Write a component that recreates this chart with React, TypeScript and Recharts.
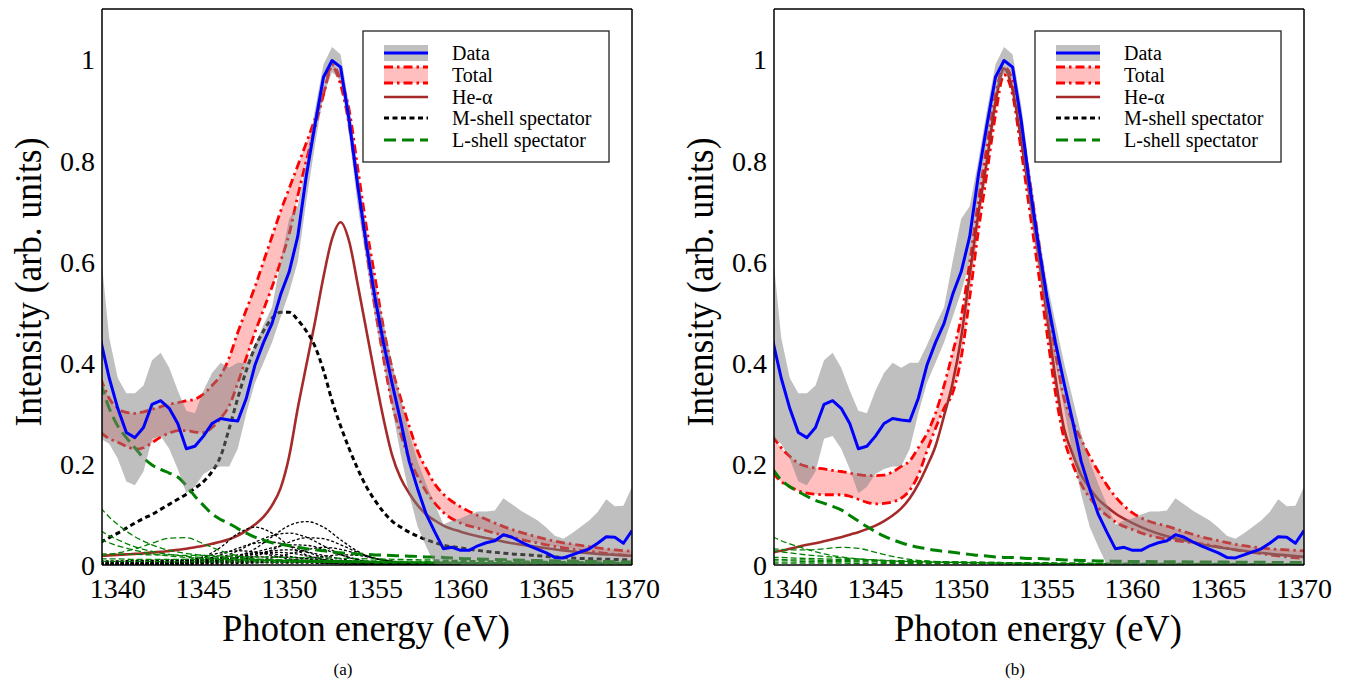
import React from 'react';
import { ComposedChart, Line, Area, XAxis, YAxis } from 'recharts';

const FONT = 'Liberation Serif, DejaVu Serif, serif';

const X_DOMAIN: [number, number] = [1339.08, 1370];
const Y_DOMAIN: [number, number] = [0, 1.1];
const X_TICKS = [1340, 1345, 1350, 1355, 1360, 1365, 1370];
const X_MINOR = [1342.5, 1347.5, 1352.5, 1357.5, 1362.5, 1367.5];
const Y_TICKS = [0, 0.2, 0.4, 0.6, 0.8, 1];
const Y_MINOR = [0.05, 0.1, 0.15, 0.25, 0.3, 0.35, 0.45, 0.5, 0.55, 0.65, 0.7, 0.75, 0.85, 0.9, 0.95, 1.05];

// measured data (shared by both panels)
const E_DATA = [1339,1339.5,1340,1340.5,1341,1341.5,1342,1342.5,1343,1343.5,1344,1344.5,1345,1345.5,1346,1346.5,1347,1347.5,1348,1348.5,1349,1349.5,1350,1350.5,1351,1351.5,1352,1352.5,1353,1353.5,1354,1354.5,1355,1355.5,1356,1356.5,1357,1357.5,1358,1358.5,1359,1359.5,1360,1360.5,1361,1361.5,1362,1362.5,1363,1363.5,1364,1364.5,1365,1365.5,1366,1366.5,1367,1367.5,1368,1368.5,1369,1369.5,1370];
const DATA = [0.445,0.37,0.31,0.262,0.252,0.272,0.318,0.325,0.31,0.28,0.23,0.235,0.255,0.28,0.29,0.287,0.285,0.33,0.395,0.44,0.478,0.535,0.58,0.65,0.77,0.87,0.965,0.998,0.985,0.88,0.75,0.635,0.53,0.44,0.36,0.285,0.205,0.15,0.1,0.065,0.032,0.035,0.029,0.029,0.038,0.044,0.048,0.06,0.055,0.046,0.038,0.031,0.024,0.015,0.014,0.02,0.026,0.032,0.043,0.056,0.055,0.043,0.068];
const DATA_HI = [0.62,0.45,0.37,0.34,0.34,0.355,0.405,0.42,0.39,0.345,0.305,0.3,0.345,0.38,0.4,0.39,0.4,0.4,0.435,0.475,0.51,0.6,0.685,0.71,0.8,0.9,0.99,1.025,1.01,0.91,0.78,0.665,0.56,0.48,0.4,0.33,0.26,0.205,0.16,0.12,0.08,0.088,0.092,0.1,0.106,0.106,0.108,0.132,0.12,0.108,0.098,0.088,0.074,0.058,0.052,0.063,0.075,0.088,0.105,0.13,0.116,0.117,0.155];
const DATA_LO = [0.25,0.24,0.21,0.165,0.158,0.185,0.25,0.255,0.23,0.19,0.142,0.155,0.18,0.19,0.195,0.195,0.23,0.3,0.36,0.4,0.44,0.49,0.54,0.6,0.72,0.83,0.93,0.975,0.96,0.85,0.71,0.6,0.49,0.4,0.31,0.22,0.14,0.075,0.036,0,0,0,0,0,0,0,0,0,0,0,0,0,0,0,0,0,0,0,0,0,0,0,0];

// model grid
const E_MODEL = [1339,1339.5,1340,1340.5,1341,1341.5,1342,1342.5,1343,1343.5,1344,1344.5,1345,1345.5,1346,1346.5,1347,1347.5,1348,1348.5,1349,1349.5,1350,1350.5,1351,1351.5,1352,1352.5,1353,1353.5,1354,1354.5,1355,1355.5,1356,1356.5,1357,1357.5,1358,1358.5,1359,1360,1361,1362,1363,1364,1365,1366,1367,1368,1369,1370];

// panel (a)
const TOTAL_HI_A = [0.37,0.33,0.31,0.302,0.3,0.303,0.308,0.313,0.318,0.321,0.325,0.328,0.338,0.355,0.375,0.41,0.46,0.505,0.55,0.6,0.65,0.7,0.745,0.79,0.835,0.882,0.932,0.99,0.96,0.9,0.785,0.67,0.57,0.47,0.39,0.33,0.275,0.225,0.19,0.16,0.14,0.115,0.098,0.083,0.07,0.06,0.051,0.044,0.039,0.034,0.03,0.027];
const TOTAL_LO_A = [0.262,0.25,0.243,0.235,0.229,0.232,0.242,0.253,0.261,0.266,0.266,0.263,0.262,0.272,0.29,0.315,0.36,0.41,0.46,0.505,0.55,0.6,0.655,0.73,0.8,0.865,0.93,0.985,0.95,0.87,0.75,0.625,0.51,0.41,0.32,0.26,0.21,0.175,0.145,0.122,0.104,0.083,0.073,0.063,0.055,0.047,0.04,0.034,0.029,0.025,0.021,0.018];
const HE_A = [0.018,0.019,0.02,0.021,0.022,0.023,0.025,0.026,0.028,0.03,0.032,0.035,0.038,0.042,0.046,0.051,0.058,0.068,0.08,0.095,0.118,0.152,0.215,0.31,0.395,0.48,0.57,0.645,0.678,0.64,0.555,0.465,0.375,0.29,0.218,0.172,0.142,0.118,0.1,0.088,0.078,0.066,0.057,0.05,0.043,0.038,0.033,0.029,0.025,0.022,0.02,0.018];
const M_A = [0.045,0.054,0.063,0.073,0.083,0.092,0.1,0.11,0.12,0.13,0.14,0.152,0.165,0.185,0.215,0.27,0.33,0.385,0.43,0.463,0.488,0.5,0.5,0.485,0.463,0.433,0.385,0.325,0.275,0.23,0.19,0.155,0.128,0.105,0.087,0.075,0.065,0.057,0.05,0.044,0.039,0.034,0.029,0.025,0.022,0.02,0.017,0.015,0.013,0.012,0.011,0.01];
const L_A = [0.36,0.31,0.275,0.252,0.232,0.212,0.198,0.189,0.182,0.174,0.157,0.136,0.118,0.101,0.09,0.082,0.072,0.063,0.055,0.049,0.044,0.041,0.038,0.035,0.032,0.03,0.028,0.026,0.024,0.023,0.022,0.021,0.02,0.0195,0.019,0.018,0.0175,0.017,0.016,0.0155,0.015,0.013,0.012,0.011,0.01,0.009,0.0085,0.008,0.0075,0.007,0.0065,0.006];

// panel (b)
const TOTAL_HI_B = [0.255,0.232,0.215,0.201,0.195,0.192,0.19,0.187,0.185,0.182,0.179,0.177,0.177,0.178,0.184,0.195,0.206,0.232,0.26,0.3,0.355,0.42,0.49,0.6,0.72,0.83,0.93,0.985,0.96,0.87,0.76,0.645,0.53,0.42,0.33,0.285,0.248,0.215,0.185,0.158,0.135,0.103,0.086,0.077,0.066,0.056,0.048,0.041,0.036,0.032,0.03,0.028];
const TOTAL_LO_B = [0.182,0.165,0.155,0.147,0.142,0.14,0.139,0.139,0.139,0.136,0.13,0.124,0.121,0.122,0.125,0.132,0.148,0.178,0.225,0.27,0.31,0.34,0.41,0.53,0.66,0.775,0.89,0.97,0.93,0.82,0.7,0.58,0.46,0.34,0.25,0.2,0.16,0.133,0.113,0.098,0.085,0.07,0.058,0.051,0.046,0.042,0.036,0.03,0.025,0.02,0.016,0.013];
const HE_B = [0.025,0.028,0.032,0.036,0.04,0.043,0.047,0.051,0.055,0.06,0.065,0.071,0.078,0.087,0.098,0.112,0.132,0.16,0.195,0.235,0.295,0.36,0.45,0.575,0.695,0.8,0.915,0.982,0.94,0.84,0.73,0.615,0.495,0.37,0.27,0.22,0.178,0.152,0.13,0.115,0.102,0.083,0.068,0.057,0.049,0.041,0.035,0.03,0.026,0.022,0.019,0.016];
const L_B = [0.19,0.168,0.155,0.145,0.136,0.128,0.122,0.116,0.109,0.098,0.087,0.076,0.066,0.057,0.05,0.044,0.039,0.035,0.032,0.029,0.027,0.025,0.023,0.021,0.019,0.018,0.016,0.015,0.015,0.014,0.013,0.013,0.012,0.011,0.01,0.0095,0.009,0.0085,0.008,0.0078,0.0075,0.007,0.0068,0.0065,0.0062,0.006,0.0058,0.0056,0.0054,0.0052,0.005,0.005];

// individual M-shell spectator components, panel (a)
const E_SUB = [1339,1340,1341,1342,1343,1344,1345,1346,1347,1348,1349,1350,1351,1352,1353,1354,1355,1356,1357,1358,1359,1360];
const M_SUB_A = [
  [0.001,0.001,0.002,0.003,0.004,0.007,0.016,0.035,0.062,0.075,0.063,0.038,0.02,0.011,0.006,0.004,0.003,0.002,0.001,0.001,0.001,0],
  [0,0.001,0.001,0.002,0.003,0.004,0.006,0.01,0.017,0.032,0.056,0.078,0.086,0.075,0.05,0.027,0.013,0.007,0.004,0.002,0.001,0.001],
  [0,0.001,0.001,0.002,0.003,0.005,0.008,0.015,0.028,0.045,0.058,0.063,0.055,0.038,0.021,0.01,0.005,0.003,0.002,0.001,0.001,0],
  [0,0,0.001,0.001,0.002,0.003,0.004,0.006,0.01,0.017,0.03,0.045,0.054,0.052,0.04,0.025,0.013,0.006,0.003,0.002,0.001,0],
  [0.001,0.001,0.002,0.003,0.004,0.006,0.011,0.02,0.033,0.043,0.045,0.038,0.026,0.015,0.008,0.004,0.002,0.001,0.001,0,0,0],
  [0,0.001,0.001,0.002,0.003,0.004,0.006,0.009,0.015,0.025,0.034,0.04,0.039,0.031,0.02,0.011,0.006,0.003,0.002,0.001,0,0],
  [0,0,0,0.001,0.001,0.002,0.003,0.004,0.006,0.009,0.014,0.022,0.03,0.035,0.031,0.022,0.013,0.007,0.003,0.002,0.001,0],
  [0.001,0.002,0.002,0.003,0.005,0.009,0.016,0.024,0.028,0.026,0.019,0.012,0.007,0.004,0.002,0.001,0.001,0,0,0,0,0],
  [0.001,0.001,0.001,0.002,0.003,0.004,0.006,0.01,0.015,0.021,0.025,0.024,0.018,0.011,0.006,0.003,0.002,0.001,0,0,0,0],
  [0,0,0,0,0.001,0.001,0.002,0.002,0.003,0.004,0.006,0.009,0.013,0.017,0.02,0.019,0.013,0.008,0.004,0.002,0.001,0],
  [0.004,0.005,0.006,0.007,0.008,0.009,0.011,0.013,0.015,0.016,0.016,0.015,0.013,0.01,0.008,0.006,0.004,0.003,0.002,0.001,0.001,0],
  [0.002,0.003,0.003,0.004,0.004,0.005,0.006,0.007,0.008,0.009,0.009,0.008,0.007,0.006,0.005,0.004,0.003,0.002,0.001,0.001,0,0],
  [0.006,0.007,0.008,0.009,0.01,0.011,0.012,0.012,0.012,0.011,0.01,0.009,0.008,0.007,0.006,0.005,0.004,0.003,0.002,0.001,0.001,0],
  [0.008,0.008,0.009,0.009,0.009,0.009,0.009,0.008,0.008,0.007,0.006,0.005,0.005,0.004,0.003,0.002,0.002,0.001,0.001,0,0,0],
  [0.003,0.004,0.005,0.006,0.007,0.008,0.01,0.014,0.02,0.024,0.022,0.017,0.012,0.008,0.005,0.003,0.002,0.001,0.001,0,0,0],
  [0.001,0.002,0.003,0.004,0.005,0.006,0.008,0.011,0.016,0.022,0.028,0.03,0.026,0.019,0.012,0.007,0.004,0.002,0.001,0.001,0,0],
  [0.004,0.004,0.004,0.005,0.005,0.005,0.005,0.005,0.005,0.005,0.004,0.004,0.004,0.003,0.003,0.002,0.002,0.001,0.001,0,0,0],
];

// individual L-shell spectator components
const E_SUB_L = [1339,1339.5,1340,1341,1342,1343,1344,1345,1346,1347,1348,1350,1352,1355,1360,1365,1370];
const L_SUB_A = [
  [0.113,0.095,0.08,0.056,0.04,0.029,0.023,0.019,0.016,0.014,0.012,0.01,0.009,0.007,0.005,0.004,0.003],
  [0.068,0.058,0.05,0.036,0.027,0.021,0.017,0.015,0.013,0.012,0.011,0.009,0.008,0.006,0.005,0.004,0.003],
  [0.05,0.044,0.038,0.029,0.022,0.018,0.015,0.013,0.011,0.01,0.009,0.008,0.007,0.006,0.004,0.003,0.003],
  [0.018,0.021,0.024,0.032,0.043,0.053,0.054,0.042,0.028,0.018,0.012,0.007,0.005,0.004,0.003,0.002,0.002],
  [0.022,0.022,0.021,0.021,0.02,0.02,0.019,0.019,0.018,0.017,0.016,0.015,0.014,0.012,0.009,0.007,0.005],
  [0.012,0.012,0.012,0.011,0.011,0.011,0.011,0.01,0.01,0.01,0.01,0.009,0.009,0.008,0.007,0.006,0.005],
  [0.007,0.007,0.007,0.007,0.007,0.006,0.006,0.006,0.006,0.006,0.006,0.005,0.005,0.005,0.004,0.004,0.003],
];
const L_SUB_B = [
  [0.056,0.048,0.042,0.031,0.022,0.016,0.012,0.01,0.008,0.007,0.006,0.005,0.004,0.003,0.002,0.002,0.001],
  [0.032,0.031,0.03,0.03,0.032,0.035,0.033,0.025,0.017,0.011,0.008,0.005,0.003,0.002,0.002,0.001,0.001],
  [0.028,0.026,0.024,0.02,0.017,0.014,0.012,0.01,0.009,0.008,0.007,0.006,0.005,0.004,0.003,0.002,0.002],
  [0.015,0.015,0.014,0.013,0.012,0.011,0.01,0.009,0.008,0.008,0.007,0.006,0.005,0.004,0.003,0.003,0.002],
  [0.008,0.008,0.008,0.007,0.007,0.007,0.006,0.006,0.005,0.005,0.005,0.004,0.004,0.003,0.002,0.002,0.002],
  [0.011,0.011,0.01,0.01,0.009,0.009,0.008,0.008,0.007,0.007,0.006,0.005,0.004,0.003,0.002,0.002,0.001],
  [0.004,0.004,0.004,0.004,0.004,0.004,0.003,0.003,0.003,0.003,0.003,0.003,0.002,0.002,0.002,0.001,0.001],
];

const LEGEND_LABELS = ['Data', 'Total', 'He-α', 'M-shell spectator', 'L-shell spectator'];

const toRows = (xs: number[], ys: number[]) => xs.map((e, i) => ({ e, v: ys[i] }));
const toBand = (xs: number[], lo: number[], hi: number[]) => xs.map((e, i) => ({ e, r: [lo[i], hi[i]] }));

const RED_DASHDOT = '9 4 2.5 4';
const tickStyle = { fill: '#000', fontSize: 28, fontFamily: FONT, style: { fontFamily: FONT } };
const frame = { stroke: '#000', strokeWidth: 1.5 };
const tl = { stroke: '#000', strokeWidth: 1.2 };

type PanelProps = {
  left: number;
  totalLo: number[];
  totalHi: number[];
  he: number[];
  m?: number[];
  l: number[];
  mSubs: number[][];
  lSubs: number[][];
};

function Panel({ left, totalLo, totalHi, he, m, l, mSubs, lSubs }: PanelProps) {
  const common = { xAxisId: 'x', yAxisId: 'y', isAnimationActive: false, dot: false, activeDot: false, legendType: 'none' as const };
  return (
    <div style={{ position: 'absolute', left, top: 0 }}>
      <ComposedChart width={660} height={682} margin={{ top: 9, right: 28, bottom: 0, left: 0 }} style={{ fontFamily: FONT }}>
        <Area {...common} data={toBand(E_MODEL, totalLo, totalHi)} dataKey="r" type="monotone" stroke="none" fill="#ffbfbf" fillOpacity={1} zIndex={100} />
        <Line {...common} data={toRows(E_MODEL, totalHi)} dataKey="v" type="monotone" stroke="#ff0000" strokeWidth={2.8} strokeDasharray={RED_DASHDOT} zIndex={110} />
        <Line {...common} data={toRows(E_MODEL, totalLo)} dataKey="v" type="monotone" stroke="#ff0000" strokeWidth={2.8} strokeDasharray={RED_DASHDOT} zIndex={110} />
        <Line {...common} data={toRows(E_MODEL, he)} dataKey="v" type="monotone" stroke="#a52a2a" strokeWidth={2.6} zIndex={120} />
        {mSubs.map((s, i) => (
          <Line key={'m' + i} {...common} data={toRows(E_SUB, s)} dataKey="v" type="monotone" stroke="#000" strokeWidth={1.3} strokeDasharray="3 2" zIndex={130} />
        ))}
        {m && (
          <Line {...common} data={toRows(E_MODEL, m)} dataKey="v" type="monotone" stroke="#000" strokeWidth={3} strokeDasharray="5 3.5" zIndex={140} />
        )}
        {lSubs.map((s, i) => (
          <Line key={'l' + i} {...common} data={toRows(E_SUB_L, s)} dataKey="v" type="monotone" stroke="#008000" strokeWidth={1.3} strokeDasharray="6 3" zIndex={150} />
        ))}
        <Line {...common} data={toRows(E_MODEL, l)} dataKey="v" type="monotone" stroke="#008000" strokeWidth={3} strokeDasharray="12 6" zIndex={160} />
        <Area {...common} data={toBand(E_DATA, DATA_LO, DATA_HI)} dataKey="r" type="linear" stroke="none" fill="#808080" fillOpacity={0.5} zIndex={170} />
        <Line {...common} data={toRows(E_DATA, DATA)} dataKey="v" type="linear" stroke="#0000ff" strokeWidth={3} strokeLinejoin="round" zIndex={180} />

        <XAxis xAxisId="x" type="number" dataKey="e" domain={X_DOMAIN} allowDataOverflow ticks={X_TICKS} interval={0} height={117} tickSize={0} tickMargin={13} tickLine={false} axisLine={frame} tick={tickStyle} />
        <XAxis xAxisId="xb1" type="number" dataKey="e" domain={X_DOMAIN} allowDataOverflow ticks={X_TICKS} interval={0} orientation="bottom" mirror height={1} tick={false} tickSize={8} tickLine={tl} axisLine={false} />
        <XAxis xAxisId="xb2" type="number" dataKey="e" domain={X_DOMAIN} allowDataOverflow ticks={X_MINOR} interval={0} orientation="bottom" mirror height={1} tick={false} tickSize={4} tickLine={tl} axisLine={false} />
        <XAxis xAxisId="xt1" type="number" dataKey="e" domain={X_DOMAIN} allowDataOverflow ticks={X_TICKS} interval={0} orientation="top" mirror height={1} tick={false} tickSize={8} tickLine={tl} axisLine={frame} />
        <XAxis xAxisId="xt2" type="number" dataKey="e" domain={X_DOMAIN} allowDataOverflow ticks={X_MINOR} interval={0} orientation="top" mirror height={1} tick={false} tickSize={4} tickLine={tl} axisLine={false} />
        <YAxis yAxisId="y" type="number" domain={Y_DOMAIN} allowDataOverflow ticks={Y_TICKS} interval={0} width={102} tickSize={0} tickMargin={7} tickLine={false} axisLine={frame} tick={tickStyle} />
        <YAxis yAxisId="yl1" type="number" domain={Y_DOMAIN} allowDataOverflow ticks={Y_TICKS} interval={0} mirror width={1} tick={false} tickSize={9} tickLine={tl} axisLine={false} />
        <YAxis yAxisId="yl2" type="number" domain={Y_DOMAIN} allowDataOverflow ticks={Y_MINOR} interval={0} mirror width={1} tick={false} tickSize={5} tickLine={tl} axisLine={false} />
        <YAxis yAxisId="yr1" type="number" domain={Y_DOMAIN} allowDataOverflow ticks={Y_TICKS} interval={0} orientation="right" mirror width={1} tick={false} tickSize={9} tickLine={tl} axisLine={frame} />
        <YAxis yAxisId="yr2" type="number" domain={Y_DOMAIN} allowDataOverflow ticks={Y_MINOR} interval={0} orientation="right" mirror width={1} tick={false} tickSize={5} tickLine={tl} axisLine={false} />
      </ComposedChart>
    </div>
  );
}

function LegendBox({ ox }: { ox: number }) {
  const sx1 = 384 + ox;
  const sx2 = 428 + ox;
  const tx = 452 + ox;
  const rows = [53, 75, 97, 118, 140];
  return (
    <g>
      <rect x={363 + ox} y={31} width={246} height={131} fill="#fff" stroke="#222" strokeWidth={1.3} />
      <rect x={sx1} y={45} width={44} height={16} fill="#c0c0c0" />
      <line x1={sx1} x2={sx2} y1={53} y2={53} stroke="#0000ff" strokeWidth={3} />
      <rect x={sx1} y={67} width={44} height={16} fill="#ffbfbf" />
      <line x1={sx1} x2={sx2} y1={67} y2={67} stroke="#ff0000" strokeWidth={2.8} strokeDasharray={RED_DASHDOT} />
      <line x1={sx1} x2={sx2} y1={83} y2={83} stroke="#ff0000" strokeWidth={2.8} strokeDasharray={RED_DASHDOT} />
      <line x1={sx1} x2={sx2} y1={97} y2={97} stroke="#a52a2a" strokeWidth={2.6} />
      <line x1={sx1} x2={sx2} y1={118} y2={118} stroke="#000" strokeWidth={3} strokeDasharray="5 3.5" />
      <line x1={sx1} x2={sx2} y1={140} y2={140} stroke="#008000" strokeWidth={3} strokeDasharray="12 6" />
      {LEGEND_LABELS.map((t, i) => (
        <text key={t} x={tx} y={rows[i]} dominantBaseline="central" fontSize={20} style={{ fontFamily: FONT }} fill="#000">{t}</text>
      ))}
    </g>
  );
}

function Titles({ ox, caption }: { ox: number; caption: string }) {
  return (
    <g fill="#000" style={{ fontFamily: FONT }}>
      <text x={366 + ox} y={641} fontSize={38} textAnchor="middle" textLength={288} lengthAdjust="spacingAndGlyphs">Photon energy (eV)</text>
      <text x={0} y={0} fontSize={38} textAnchor="middle" textLength={289} lengthAdjust="spacingAndGlyphs" transform={`translate(${41 + ox},282) rotate(-90)`}>Intensity (arb. units)</text>
      <text x={343 + ox} y={675} fontSize={17} textAnchor="middle">{caption}</text>
    </g>
  );
}

export default function App() {
  return (
    <div style={{ position: 'absolute', left: 0, top: 0, width: 1345, height: 682, background: '#fff', overflow: 'hidden', fontFamily: FONT }}>
      <Panel left={0} totalLo={TOTAL_LO_A} totalHi={TOTAL_HI_A} he={HE_A} m={M_A} l={L_A} mSubs={M_SUB_A} lSubs={L_SUB_A} />
      <Panel left={672} totalLo={TOTAL_LO_B} totalHi={TOTAL_HI_B} he={HE_B} l={L_B} mSubs={[]} lSubs={L_SUB_B} />
      <svg width={1345} height={682} style={{ position: 'absolute', left: 0, top: 0, pointerEvents: 'none' }}>
        <LegendBox ox={0} />
        <LegendBox ox={672} />
        <Titles ox={0} caption="(a)" />
        <Titles ox={672} caption="(b)" />
      </svg>
    </div>
  );
}
